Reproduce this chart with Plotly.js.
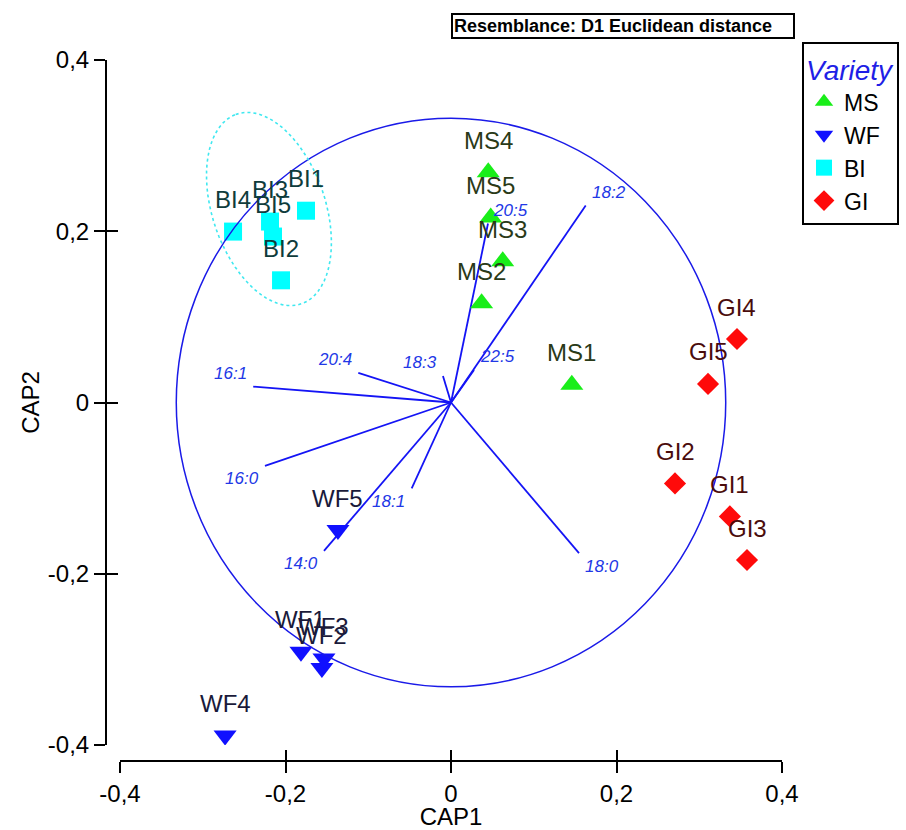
<!DOCTYPE html>
<html>
<head>
<meta charset="utf-8">
<script src="https://cdn.plot.ly/plotly-3.0.1.min.js"></script>
<style>html,body{margin:0;padding:0;background:#fff;}#chart{width:906px;height:830px;}</style>
</head>
<body>
<div id="chart"></div>
<script>
// ---- data ----
const msLabels = ['MS1','MS2','MS3','MS4','MS5'];
const msX = [0.146, 0.037, 0.0625, 0.045, 0.048];
const msY = [0.0206, 0.116, 0.165, 0.269, 0.216];

const wfLabels = ['WF1','WF2','WF3','WF4','WF5'];
const wfX = [-0.1813, -0.156, -0.1535, -0.273, -0.1366];
const wfY = [-0.291, -0.310, -0.299, -0.389, -0.149];

const biLabels = ['BI1','BI2','BI3','BI4','BI5'];
const biX = [-0.1752, -0.2054, -0.2187, -0.2634, -0.2151];
const biY = [0.2240, 0.1427, 0.2113, 0.1996, 0.1938];

const giLabels = ['GI1','GI2','GI3','GI4','GI5'];
const giX = [0.337, 0.2707, 0.3577, 0.3456, 0.3106];
const giY = [-0.133, -0.0945, -0.184, 0.0741, 0.0217];

const vecLabels = ['14:0','16:0','16:1','18:0','18:1','18:2','18:3','20:4','20:5','22:5'];
const vecX = [-0.1535, -0.2248, -0.239, 0.1547, -0.0475, 0.1628, -0.0097, -0.112, 0.0447, 0.0278];
const vecY = [-0.1733, -0.074, 0.0186, -0.176, -0.1003, 0.2302, 0.031, 0.0345, 0.209, 0.038];

const circleRadius = 0.332;
// BI group ellipse: centre, semi-axes, tilt (deg from vertical, top leaning left)
const ellipseCX = -0.22, ellipseCY = 0.226, ellipseA = 0.1175, ellipseB = 0.068, ellipseTilt = 20;

const tickVals = [-0.4, -0.2, 0, 0.2, 0.4];
const tickText = ['-0,4', '-0,2', '0', '0,2', '0,4'];

// ---- styles ----
const FONT = 'Arial, "Liberation Sans", sans-serif';
const groups = [
  {name:'MS', x:msX, y:msY, lab:msLabels, symbol:'triangle-up', size:20, color:'#19ee19', tcolor:'#2a3a18'},
  {name:'WF', x:wfX, y:wfY, lab:wfLabels, symbol:'triangle-down', size:20, color:'#1010ff', tcolor:'#1a1a3a'},
  {name:'BI', x:biX, y:biY, lab:biLabels, symbol:'square', size:18, color:'#00ffff', tcolor:'#0f3c3c'},
  {name:'GI', x:giX, y:giY, lab:giLabels, symbol:'diamond', size:17, color:'#ff0a0a', tcolor:'#4a0c0c'}
];

const traces = [];
// vectors
const vx = [], vy = [];
vecX.forEach((x, i) => { vx.push(0, x, null); vy.push(0, vecY[i], null); });
traces.push({type:'scatter', mode:'lines', x:vx, y:vy, line:{color:'#1414f5', width:1.8},
  showlegend:false, hoverinfo:'skip'});

groups.forEach(g => {
  traces.push({type:'scatter', mode:'markers', name:g.name, x:g.x, y:g.y, text:g.lab,
    marker:{symbol:g.symbol, size:g.size, color:g.color, line:{width:0}}});
});
// dummy trace for overlay tick axes
traces.push({type:'scatter', mode:'markers', x:[], y:[], xaxis:'x2', yaxis:'y2', showlegend:false, hoverinfo:'skip'});

const annotations = [];
groups.forEach(g => {
  g.x.forEach((x, i) => {
    annotations.push({x:x, y:g.y[i], xref:'x', yref:'y', text:g.lab[i], showarrow:false,
      yshift:32, font:{family:FONT, size:24, color:g.tcolor}});
  });
});
vecLabels.forEach((t, i) => {
  annotations.push({x:vecX[i], y:vecY[i], xref:'x', yref:'y', text:t, showarrow:false,
    xshift:Math.sign(vecX[i]) * 23, yshift:Math.sign(vecY[i]) * 13,
    font:{family:FONT, size:17, color:'#2238e6', style:'italic'}});
});
annotations.push({xref:'paper', yref:'paper', x:623/906, y:1 - 25.5/830, xanchor:'center', yanchor:'middle',
  text:'<b>Resemblance: D1 Euclidean distance</b>', showarrow:false, width:338, align:'left',
  bordercolor:'#000', borderwidth:2, borderpad:1, bgcolor:'#fff',
  font:{family:FONT, size:18, color:'#000'}});

// ellipse path
const th = ellipseTilt * Math.PI / 180;
let path = '';
for (let k = 0; k <= 72; k++) {
  const t = k / 72 * 2 * Math.PI;
  const u = ellipseA * Math.cos(t), v = ellipseB * Math.sin(t);
  const px = ellipseCX + u * (-Math.sin(th)) + v * Math.cos(th);
  const py = ellipseCY + u * Math.cos(th) + v * Math.sin(th);
  path += (k === 0 ? 'M' : 'L') + px.toFixed(4) + ',' + py.toFixed(4);
}
path += 'Z';

const xDomain = [120/906, 782/906];
const yDomain = [1 - 745/830, 1 - 60/830];
const axisCommon = {range:[-0.4, 0.4], showgrid:false, zeroline:false, tickvals:tickVals, ticktext:tickText,
  tickcolor:'#000', tickwidth:2, ticklen:11, tickfont:{family:FONT, size:24, color:'#000'}, automargin:false};

const layout = {
  width:906, height:830,
  margin:{l:0, r:0, t:0, b:0},
  paper_bgcolor:'#fff', plot_bgcolor:'#fff',
  font:{family:FONT, color:'#000'},
  xaxis:Object.assign({}, axisCommon, {domain:xDomain, anchor:'free', position:1 - 761/830,
    ticks:'outside', showline:true, linecolor:'#000', linewidth:2,
    title:{text:'CAP1', font:{family:FONT, size:24, color:'#000'}, standoff:8}}),
  yaxis:Object.assign({}, axisCommon, {domain:yDomain, anchor:'free', position:106/906,
    ticks:'outside', showline:true, linecolor:'#000', linewidth:2,
    title:{text:'CAP2', font:{family:FONT, size:24, color:'#000'}, standoff:0}}),
  xaxis2:Object.assign({}, axisCommon, {overlaying:'x', anchor:'free', position:1 - 761/830,
    ticks:'inside', showticklabels:false, showline:false}),
  yaxis2:Object.assign({}, axisCommon, {overlaying:'y', anchor:'free', position:106/906,
    ticks:'inside', showticklabels:false, showline:false}),
  showlegend:true,
  legend:{x:802/906, y:1 - 42/830, xanchor:'left', yanchor:'top', bgcolor:'#fff',
    bordercolor:'#000', borderwidth:2, font:{family:FONT, size:23, color:'#000'},
    title:{text:'Variety', font:{family:FONT, size:28, color:'#1f1fe6', style:'italic'}},
    itemwidth:30, tracegroupgap:0},
  shapes:[
    {type:'circle', xref:'x', yref:'y', x0:-circleRadius, x1:circleRadius, y0:-circleRadius, y1:circleRadius,
      line:{color:'#1a1ae8', width:1.5}},
    {type:'path', xref:'x', yref:'y', path:path, line:{color:'#40e8f0', width:1.6, dash:'dot'}}
  ],
  annotations:annotations
};

Plotly.newPlot('chart', traces, layout, {displayModeBar:false, staticPlot:true});
</script>
</body>
</html>
